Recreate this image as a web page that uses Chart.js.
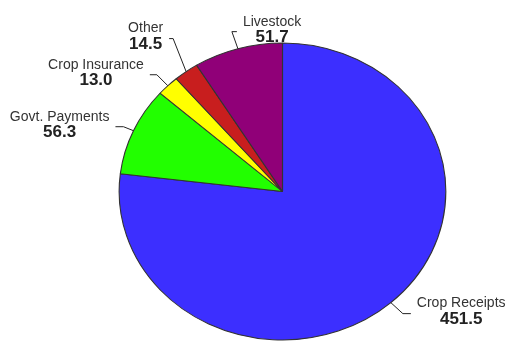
<!DOCTYPE html>
<html>
<head>
<meta charset="utf-8">
<script src="https://cdn.jsdelivr.net/npm/chart.js@4"></script>
<style>
  html, body { margin:0; padding:0; background:#fff; }
  #wrap { width:506px; height:341px; }
</style>
</head>
<body>
<div id="wrap"><canvas id="pieChart" width="506" height="341"></canvas></div>
<script>
  const categories = ['Crop Receipts', 'Govt. Payments', 'Crop Insurance', 'Other', 'Livestock'];
  const values = [451.5, 56.3, 13.0, 14.5, 51.7];
  const sliceColors = ['#3c2fff', '#22ff00', '#ffff00', '#c81e1e', '#900078'];

  // leader line: elbow offset from slice edge (dx, dy) and horizontal tail length
  const leaderDx = [12, -10, -11, -13, -6];
  const leaderDy = [11, -4, -11, -33, -17];
  const leaderTail = [8, -8, -7, -4, 5];

  const SX = 1.1; // pie is a bit wider than tall
  const FONT = "'Liberation Sans', Arial, sans-serif";

  const stretchPlugin = {
    id: 'stretch',
    beforeDatasetsDraw(chart){
      const arc = chart.getDatasetMeta(0).data[0]; if(!arc) return;
      const ctx = chart.ctx;
      ctx.save();
      ctx.translate(arc.x, 0); ctx.scale(SX, 1); ctx.translate(-arc.x, 0);
    },
    afterDatasetsDraw(chart){ chart.ctx.restore(); }
  };

  const labelPlugin = {
    id: 'pieLabels',
    afterDraw(chart){
      const ctx = chart.ctx;
      const arcs = chart.getDatasetMeta(0).data;
      ctx.save();
      arcs.forEach(function(a, i){
        const mid = (a.startAngle + a.endAngle) / 2;
        const px = a.x + Math.cos(mid) * a.outerRadius * SX;
        const py = a.y + Math.sin(mid) * a.outerRadius;
        const ex = px + leaderDx[i], ey = py + leaderDy[i];
        const hx = ex + leaderTail[i];
        ctx.strokeStyle = '#222'; ctx.lineWidth = 1;
        ctx.beginPath(); ctx.moveTo(px, py); ctx.lineTo(ex, ey); ctx.lineTo(hx, ey); ctx.stroke();

        const name = categories[i], val = values[i].toFixed(1);
        ctx.font = '14px ' + FONT; const wn = ctx.measureText(name).width;
        ctx.font = 'bold 17px ' + FONT; const wv = ctx.measureText(val).width;
        const w = Math.max(wn, wv), gap = 6;
        const cx = leaderTail[i] > 0 ? hx + gap + w / 2 : hx - gap - w / 2;
        ctx.textAlign = 'center'; ctx.textBaseline = 'middle';
        ctx.fillStyle = '#333';
        ctx.font = '14px ' + FONT; ctx.fillText(name, cx, ey - 10);
        ctx.fillStyle = '#222';
        ctx.font = 'bold 17px ' + FONT; ctx.fillText(val, cx, ey + 6);
      });
      ctx.restore();
    }
  };

  new Chart(document.getElementById('pieChart'), {
    type: 'pie',
    data: {
      labels: categories,
      datasets: [{ data: values, backgroundColor: sliceColors, borderColor: '#333', borderWidth: 1, clip: false }]
    },
    options: {
      responsive: false, animation: false, devicePixelRatio: 1,
      radius: 148.5,
      layout: { padding: { left: 59, right: 0, top: 42, bottom: 0 } },
      plugins: { legend: { display: false }, tooltip: { enabled: false } }
    },
    plugins: [stretchPlugin, labelPlugin]
  });
</script>
</body>
</html>
